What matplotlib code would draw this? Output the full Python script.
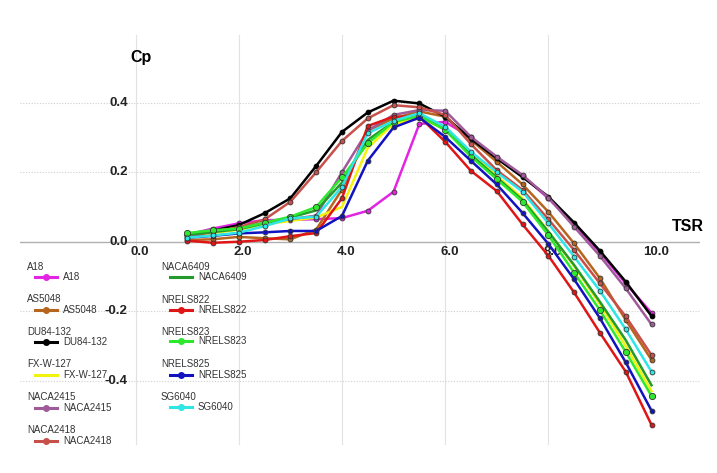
import numpy as np
import matplotlib.pyplot as plt
from matplotlib.lines import Line2D

# TSR noktalari
tsr = [1.0, 1.5, 2.0, 2.5, 3.0, 3.5, 4.0, 4.5, 5.0, 5.5,
       6.0, 6.5, 7.0, 7.5, 8.0, 8.5, 9.0, 9.5, 10.0]

# Cp degerleri
a18 = [0.020, 0.038, 0.053, 0.062, 0.063, 0.065, 0.068, 0.089, 0.144, 0.339,
       0.345, 0.300, 0.240, 0.190, 0.125, 0.050, -0.030, -0.120, -0.205]
as5048 = [0.005, 0.007, 0.014, 0.010, 0.007, 0.035, 0.150, 0.320, 0.355, 0.375,
          0.360, 0.293, 0.230, 0.165, 0.086, -0.005, -0.105, -0.225, -0.340]
du84 = [0.018, 0.032, 0.048, 0.082, 0.125, 0.218, 0.316, 0.372, 0.406, 0.398,
        0.360, 0.296, 0.240, 0.186, 0.130, 0.055, -0.026, -0.115, -0.214]
fxw127 = [0.015, 0.025, 0.035, 0.050, 0.060, 0.070, 0.100, 0.270, 0.340, 0.355,
          0.325, 0.255, 0.190, 0.125, 0.030, -0.070, -0.180, -0.300, -0.430]
naca2415 = [0.020, 0.030, 0.040, 0.055, 0.065, 0.075, 0.200, 0.320, 0.365, 0.379,
            0.377, 0.302, 0.245, 0.192, 0.127, 0.043, -0.041, -0.134, -0.238]
naca2418 = [0.015, 0.028, 0.042, 0.064, 0.115, 0.200, 0.290, 0.355, 0.393, 0.387,
            0.365, 0.281, 0.206, 0.149, 0.065, -0.024, -0.120, -0.215, -0.326]
naca6409 = [0.020, 0.028, 0.036, 0.053, 0.070, 0.090, 0.170, 0.293, 0.345, 0.365,
            0.322, 0.250, 0.185, 0.120, 0.029, -0.067, -0.173, -0.283, -0.413]
nrels822 = [0.003, -0.003, 0.000, 0.005, 0.016, 0.025, 0.125, 0.333, 0.360, 0.360,
            0.288, 0.204, 0.146, 0.050, -0.040, -0.146, -0.262, -0.374, -0.527]
nrels823 = [0.025, 0.033, 0.038, 0.055, 0.072, 0.100, 0.185, 0.283, 0.345, 0.362,
            0.322, 0.245, 0.180, 0.115, 0.019, -0.089, -0.197, -0.317, -0.444]
nrels825 = [0.012, 0.017, 0.024, 0.027, 0.031, 0.031, 0.074, 0.233, 0.329, 0.357,
            0.302, 0.233, 0.165, 0.083, -0.006, -0.108, -0.220, -0.347, -0.486]
sg6040 = [0.012, 0.018, 0.026, 0.045, 0.067, 0.072, 0.158, 0.312, 0.348, 0.370,
          0.331, 0.259, 0.200, 0.144, 0.053, -0.043, -0.141, -0.252, -0.374]

isimler = ["A18", "AS5048", "DU84-132", "FX-W-127", "NACA2415", "NACA2418",
           "NACA6409", "NRELS822", "NRELS823", "NRELS825", "SG6040"]
veriler = [a18, as5048, du84, fxw127, naca2415, naca2418,
           naca6409, nrels822, nrels823, nrels825, sg6040]
renkler = ["#e324e3", "#b5651d", "#000000", "#f2f20a", "#a05a9a", "#c8504a",
           "#239a2b", "#e01515", "#2ee82e", "#1212c0", "#2ee6e6"]
markerli = [True, True, True, False, True, True, False, True, True, True, True]

x_ticks = [0.0, 2.0, 4.0, 6.0, 8.0, 10.0]
x_grid = [0.0, 2.0, 4.0, 6.0, 8.0]
y_ticks = [-0.4, -0.2, 0.0, 0.2, 0.4]

fig = plt.figure(figsize=(7.17, 4.73), dpi=100)
ax = fig.add_axes([20 / 717, 28 / 473, 680 / 717, 410 / 473])
ax.set_xlim(-2.24, 10.94)
ax.set_ylim(-0.585, 0.595)

for s in ax.spines.values():
    s.set_visible(False)
ax.set_xticks([])
ax.set_yticks([])

# izgara
for gx in x_grid:
    ax.axvline(gx, color="#e2e2e2", lw=0.8, zorder=0)
for gy in y_ticks:
    if gy != 0.0:
        ax.axhline(gy, color="#cfcfcf", lw=0.8, ls=(0, (1, 1.5)), zorder=0)
ax.axhline(0.0, color="#b0b0b0", lw=1.0, zorder=0)

tick_font = dict(fontsize=9.5, fontweight="bold", color="#222222",
                 family=["Liberation Sans", "DejaVu Sans"])
for t in x_ticks:
    ax.text(t + 0.08, -0.012, f"{t:.1f}", ha="center", va="top", **tick_font)
for t in y_ticks:
    ax.text(-0.15, t, f"{t:.1f}", ha="right", va="center", **tick_font)

ax.text(0.1, 0.53, "Cp", fontsize=11.5, fontweight="bold", ha="center", va="center",
        family=["Liberation Sans", "DejaVu Sans"])
ax.text(10.7, 0.045, "TSR", fontsize=11.5, fontweight="bold", ha="center", va="center",
        family=["Liberation Sans", "DejaVu Sans"])

# egriler
for ad, y, c, m in zip(isimler, veriler, renkler, markerli):
    ms = 4.5 if ad == "NRELS823" else 3.5
    ax.plot(tsr, y, color=c, lw=1.8, marker="o" if m else None, ms=ms,
            mfc=c, mec="#333333" if c != "#000000" else "#000000", mew=0.6,
            zorder=3)

# elle cizilen lejant
leg_font = dict(fontsize=7, color="#333333", family=["Liberation Sans", "DejaVu Sans"])
sol = [(27, 267, 35, 57, 63, 277), (27, 299, 35, 57, 63, 310),
       (27, 332, 35, 57, 63, 342), (27, 364, 35, 57, 63, 375),
       (27, 397, 35, 57, 63, 408), (27, 430, 35, 57, 63, 441)]
sag = [(161, 267, 170, 192, 198, 277), (161, 300, 170, 192, 198, 310),
       (161, 332, 170, 192, 198, 341), (161, 364, 170, 192, 198, 375),
       (161, 397, 170, 192, 198, 407)]
W, H = 717.0, 473.0
for i, (tx, ty, lx0, lx1, lbx, ly) in enumerate(sol + sag):
    ad, c, m = isimler[i], renkler[i], markerli[i]
    fig.text(tx / W, 1 - ty / H, ad, ha="left", va="center", **leg_font)
    fig.add_artist(Line2D([lx0 / W, lx1 / W], [1 - ly / H, 1 - ly / H],
                          color=c, lw=2.2, transform=fig.transFigure))
    if m:
        fig.add_artist(Line2D([(lx0 + lx1) / 2 / W], [1 - ly / H], color=c,
                              marker="o", ms=4, mfc=c, mec=c,
                              transform=fig.transFigure))
    fig.text(lbx / W, 1 - ly / H, ad, ha="left", va="center", **leg_font)

fig.savefig("out.png", dpi=100, facecolor="white")
